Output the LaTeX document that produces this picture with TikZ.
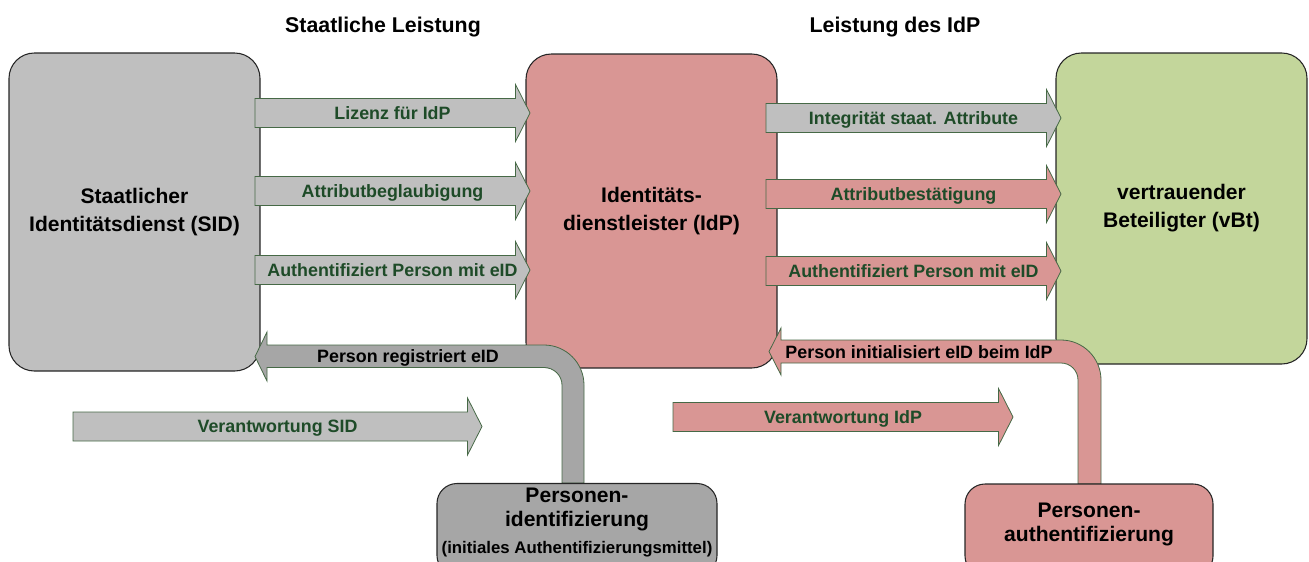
\documentclass[tikz,border=0pt]{standalone}
\usepackage{fontspec}
\setmainfont{Liberation Sans}
\definecolor{sidgray}{RGB}{191,191,191}
\definecolor{dgray}{RGB}{166,166,166}
\definecolor{idppink}{RGB}{217,150,148}
\definecolor{vbtgreen}{RGB}{195,214,155}
\definecolor{aborder}{RGB}{70,105,70}
\definecolor{lgreen}{RGB}{30,75,40}
\newcommand\rblock[6]{%
  \draw[blockarrow, fill=#4] (#1,#3-14.5) -- (#2-14.5,#3-14.5) -- (#2-14.5,#3-28.5) -- (#2,#3) -- (#2-14.5,#3+28.5) -- (#2-14.5,#3+14.5) -- (#1,#3+14.5) -- cycle;
  \node[alabel] (#5) at ({(#1+#2)/2},#3+6.4) {#6};}
\tikzset{
  bigbox/.style={draw=black!85, line width=0.8pt, rounded corners=19pt, minimum width=188.25pt, inner sep=0pt, align=center, font=\bfseries\fontsize{15.8}{21}\selectfont},
  smallbox/.style={draw=black!85, line width=0.8pt, rounded corners=15pt, inner sep=0pt},
  boxtext/.style={align=center, inner sep=0pt, font=\bfseries\fontsize{15.8}{18.5}\selectfont},
  blockarrow/.style={draw=aborder, line width=0.6pt},
  alabel/.style={anchor=base, inner sep=0pt, text=lgreen, font=\bfseries\fontsize{13.4}{15}\selectfont},
  blabel/.style={anchor=base, inner sep=0pt, text=black, font=\bfseries\fontsize{13.4}{15}\selectfont},
  title/.style={anchor=base, inner sep=0pt, font=\bfseries\fontsize{16}{18}\selectfont}
}
\begin{document}
\begin{tikzpicture}[x=0.75pt, y=-0.75pt]
\useasboundingbox (0,0) rectangle (1309,561);
\clip (0,0) rectangle (1309,561);
% titles
\node[title] (t1) at (383,32) {Staatliche Leistung};
\node[title] (t2) at (895,32) {Leistung des IdP};
% main boxes
\node[bigbox, fill=sidgray, minimum height=238.5pt] (sid) at (134.5,212) {Staatlicher\\Identitätsdienst (SID)};
\node[bigbox, fill=idppink, minimum height=235.5pt] (idp) at (651.5,211) {Identitäts-\\dienstleister (IdP)};
\node[bigbox, fill=vbtgreen, minimum height=233.25pt] (vbt) at (1181.5,208.5) {vertrauender\\Beteiligter (vBt)};
% block arrows SID -> IdP
\rblock{255}{530}{113}{sidgray}{a1}{Lizenz für IdP}
\rblock{255}{530}{191}{sidgray}{a2}{Attributbeglaubigung}
\rblock{255}{530}{270}{sidgray}{a3}{Authentifiziert Person mit eID}
% block arrows IdP -> vBt
\rblock{766}{1061}{118}{sidgray}{b1}{Integrität staat. Attribute}
\rblock{766}{1061}{194}{idppink}{b2}{Attributbestätigung}
\rblock{766}{1061}{271}{idppink}{b3}{Authentifiziert Person mit eID}
% responsibility arrows
\rblock{73}{482}{426.5}{sidgray}{v1}{Verantwortung SID}
\rblock{673}{1013}{417}{idppink}{v2}{Verantwortung IdP}
% bent arrow gray (Personenidentifizierung -> SID)
\draw[blockarrow, fill=dgray] (255,356.5) -- (267,332) -- (267,345) -- (544,345) .. controls (566,345) and (584,363) .. (584,385) -- (584,483) -- (562,483) -- (562,385) .. controls (562,375.3) and (553.7,367.5) .. (544,367.5) -- (267,367.5) -- (267,381) -- cycle;
\node[blabel] (r1) at (408,362.5) {Person registriert eID};
% bent arrow pink (Personenauthentifizierung -> IdP)
\draw[blockarrow, fill=idppink] (769,351.5) -- (781,328) -- (781,340) -- (1061,340) .. controls (1083,340) and (1101,358) .. (1101,380) -- (1101,484) -- (1078,484) -- (1078,380) .. controls (1078,370.6) and (1070.4,363) .. (1061,363) -- (781,363) -- (781,375) -- cycle;
\node[blabel] (r2) at (919,358) {Person initialisiert eID beim IdP};
% bottom boxes
\node[smallbox, fill=dgray, minimum width=210pt, minimum height=69pt] (pid) at (577,529.5) {};
\node[smallbox, fill=idppink, minimum width=186pt, minimum height=69pt] (pau) at (1089,530) {};
\node[boxtext] (pidt) at (577,509.5) {Personen-\\identifizierung};
\node[anchor=base, inner sep=0pt, font=\bfseries\fontsize{12.6}{14}\selectfont] (pids) at (577,553) {(initiales Authentifizierungsmittel)};
\node[boxtext] (paut) at (1089,524.5) {Personen-\\authentifizierung};
\end{tikzpicture}
\end{document}
